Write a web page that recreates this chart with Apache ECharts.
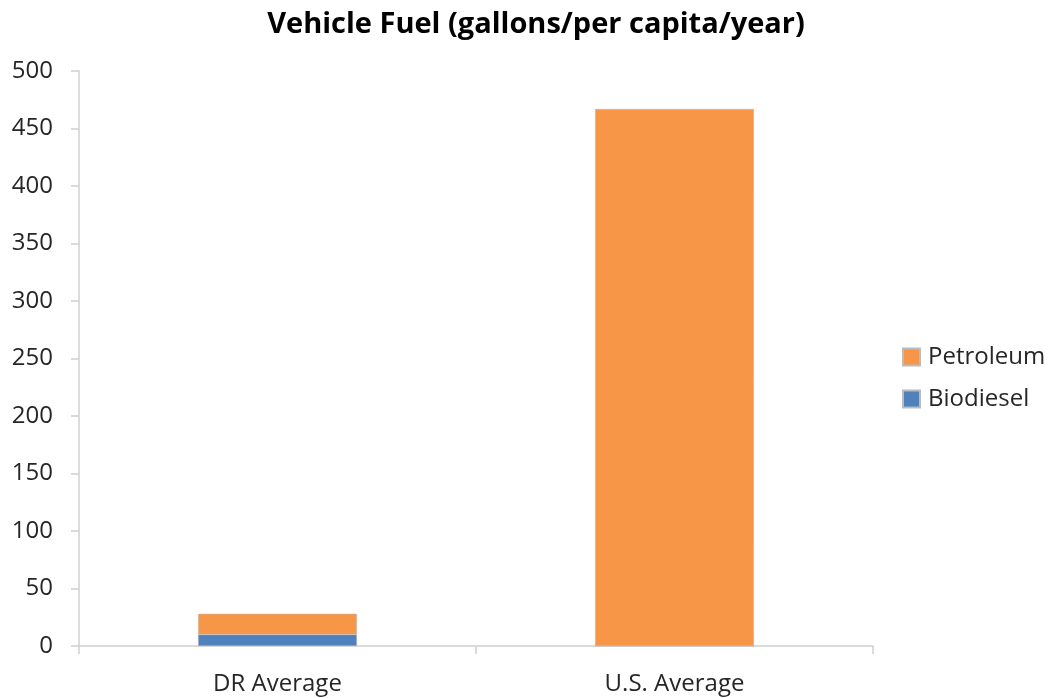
<!DOCTYPE html>
<html>
<head>
<meta charset="utf-8">
<script src="https://cdn.jsdelivr.net/npm/echarts@6/dist/echarts.min.js"></script>
<style>
html,body{margin:0;padding:0;background:#fff;}
#chart{width:1051px;height:698px;}
</style>
</head>
<body>
<div id="chart"></div>
<script>
var categories = ['DR Average', 'U.S. Average'];
var biodiesel = [10, 0];
var petroleum = [18, 467];
var yTicks = [0, 50, 100, 150, 200, 250, 300, 350, 400, 450, 500];

var chart = echarts.init(document.getElementById('chart'), null, {renderer: 'canvas'});
var font = '"Open Sans", "Liberation Sans", sans-serif';
chart.setOption({
  animation: false,
  backgroundColor: '#ffffff',
  title: {
    text: 'Vehicle Fuel (gallons/per capita/year)',
    left: 531,
    top: 5,
    textAlign: 'center',
    textStyle: {fontFamily: font, fontSize: 29, fontWeight: 'bold', color: '#000000'}
  },
  legend: {
    orient: 'vertical',
    left: 902,
    top: 345,
    padding: 0,
    itemWidth: 17,
    itemHeight: 17,
    itemGap: 18,
    icon: 'rect',
    data: ['Petroleum', 'Biodiesel'],
    textStyle: {fontFamily: font, fontSize: 24, color: '#262626', padding: [0, 0, 0, 3]}
  },
  grid: {left: 79, right: 178, top: 71, bottom: 52, containLabel: false},
  xAxis: {
    type: 'category',
    data: categories,
    axisLine: {lineStyle: {color: '#D0D0D0', width: 1.5}},
    axisTick: {show: true, length: 8, alignWithLabel: false, lineStyle: {color: '#D0D0D0', width: 1.5}},
    axisLabel: {fontFamily: font, fontSize: 24, color: '#262626', margin: 26},
    splitLine: {show: false}
  },
  yAxis: {
    type: 'value',
    min: yTicks[0],
    max: yTicks[yTicks.length - 1],
    interval: 50,
    axisLine: {show: true, lineStyle: {color: '#D0D0D0', width: 1.5}},
    axisTick: {show: true, length: 8, lineStyle: {color: '#D0D0D0', width: 1.5}},
    axisLabel: {fontFamily: font, fontSize: 24, color: '#262626', margin: 26},
    splitLine: {show: false}
  },
  series: [
    {
      name: 'Biodiesel',
      type: 'bar',
      stack: 'fuel',
      barWidth: '40%',
      data: biodiesel,
      itemStyle: {color: '#4F81BD', borderColor: '#BBBBBB', borderWidth: 0.5}
    },
    {
      name: 'Petroleum',
      type: 'bar',
      stack: 'fuel',
      barWidth: '40%',
      data: petroleum,
      itemStyle: {color: '#F79646', borderColor: '#BBBBBB', borderWidth: 0.5}
    }
  ]
});
</script>
</body>
</html>
